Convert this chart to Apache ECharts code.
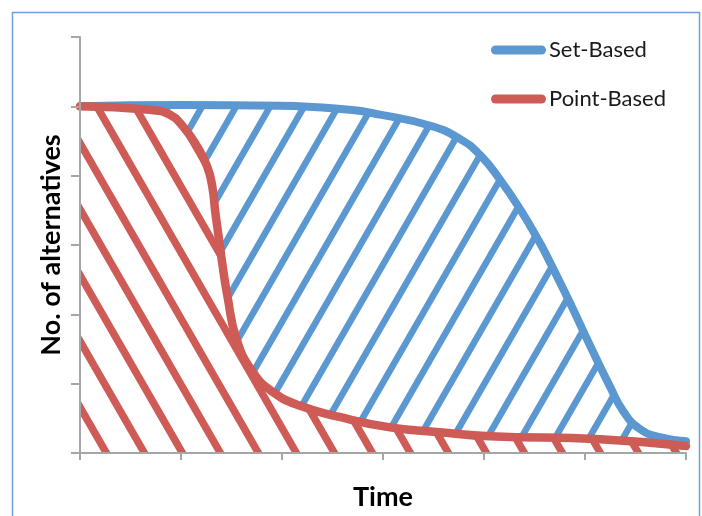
<!DOCTYPE html>
<html><head><meta charset="utf-8">
<script src="https://cdn.jsdelivr.net/npm/echarts@6/dist/echarts.min.js"></script>
<style>html,body{margin:0;padding:0;background:#fff}#c{width:702px;height:516px}</style>
</head><body><div id="c"></div>
<script>
// ---- data ----
const seriesNames = ['Set-Based', 'Point-Based'];
const setBasedX = [0, 0.99, 1.98, 2.67, 2.97, 3.47, 3.76, 3.96, 4.16, 4.36, 4.55, 4.65, 4.85, 5.05, 5.25, 5.38, 5.54, 5.74, 6.0];
const setBasedY = [5.0, 5.02, 5.01, 4.95, 4.88, 4.72, 4.53, 4.30, 3.94, 3.51, 3.04, 2.76, 2.17, 1.55, 0.95, 0.60, 0.35, 0.23, 0.17];
const pointBasedX = [0, 0.69, 0.89, 1.02, 1.16, 1.26, 1.31, 1.34, 1.37, 1.41, 1.46, 1.55, 1.71, 1.91, 2.18, 2.57, 3.07, 3.56, 4.06, 5.15, 6.0];
const pointBasedY = [5.0, 4.95, 4.88, 4.71, 4.42, 4.13, 3.84, 3.47, 3.15, 2.72, 2.26, 1.64, 1.17, 0.88, 0.68, 0.52, 0.37, 0.30, 0.24, 0.20, 0.10];
const axisMin = 0, axisMax = 6, axisStep = 1; // unlabeled ticks
const xAxisName = 'Time';
const yAxisName = 'No. of alternatives';

const BLUE = '#5B97D1';
const RED = '#CE5B56';
const FONT = 'Lato, "Open Sans", sans-serif';

function hatch(w, h, color, lw, dir, offset, bg) {
  const c = document.createElement('canvas');
  c.width = w; c.height = h;
  const g = c.getContext('2d');
  if (bg) { g.fillStyle = bg; g.fillRect(0, 0, w, h); }
  g.strokeStyle = color; g.lineWidth = lw;
  for (let k = -3; k <= 3; k++) {
    const b = k * w + offset;
    g.beginPath();
    if (dir === '\\') { g.moveTo(b - w, -h); g.lineTo(b + 2 * w, 2 * h); }
    else { g.moveTo(b + w, -h); g.lineTo(b - 2 * w, 2 * h); }
    g.stroke();
  }
  return c;
}
const redPat = hatch(38, 66, RED, 7.5, '\\', 35.6, '#ffffff');
const bluePat = hatch(34, 59, BLUE, 6.5, '/', 25.5, null);

const zip = (xs, ys) => xs.map((x, i) => [x, ys[i]]);
const legendIcon = 'path://M4.5,0 L50.5,0 A4.5,4.5 0 0 1 50.5,9 L4.5,9 A4.5,4.5 0 0 1 4.5,0 Z';

const axisCommon = {
  type: 'value', min: axisMin, max: axisMax, interval: axisStep, z: 5,
  axisLine: { show: true, lineStyle: { color: '#A6A6A6', width: 2 } },
  axisLabel: { show: false },
  splitLine: { show: false },
  nameLocation: 'middle',
  nameTextStyle: { fontFamily: FONT, fontWeight: 'bold', color: '#000' }
};

const chart = echarts.init(document.getElementById('c'), null, { renderer: 'canvas' });
chart.setOption({
  animation: false,
  backgroundColor: '#fff',
  graphic: [{
    type: 'rect', silent: true, z: -1,
    shape: { x: 12.5, y: 12.5, width: 687, height: 530 },
    style: { fill: 'none', stroke: '#6E9FDB', lineWidth: 1.5 }
  }],
  grid: { left: 80, right: 16, top: 37, bottom: 62, containLabel: false },
  legend: {
    orient: 'vertical', left: 486, top: 34, itemWidth: 55, itemHeight: 9, itemGap: 27,
    selectedMode: false,
    textStyle: { fontFamily: FONT, fontSize: 22, color: '#1a1a1a', lineHeight: 22, padding: [0, 0, 0, -2] },
    data: [
      { name: seriesNames[0], icon: legendIcon, itemStyle: { color: BLUE, borderWidth: 0 } },
      { name: seriesNames[1], icon: legendIcon, itemStyle: { color: RED, borderWidth: 0 } }
    ]
  },
  xAxis: Object.assign({}, axisCommon, {
    name: xAxisName, nameGap: 31,
    nameTextStyle: Object.assign({}, axisCommon.nameTextStyle, { fontSize: 27 }),
    axisTick: { show: true, length: 7, inside: false, lineStyle: { color: '#A6A6A6', width: 2 } }
  }),
  yAxis: Object.assign({}, axisCommon, {
    name: yAxisName, nameGap: 15, nameRotate: 90,
    nameTextStyle: Object.assign({}, axisCommon.nameTextStyle, { fontSize: 27 }),
    axisTick: { show: true, length: 9, inside: false, lineStyle: { color: '#A6A6A6', width: 2 } }
  }),
  series: [
    {
      name: seriesNames[0], type: 'line', data: zip(setBasedX, setBasedY),
      smooth: 0.5, symbol: 'none', z: 2,
      lineStyle: { color: BLUE, width: 8, cap: 'round', join: 'round' },
      itemStyle: { color: BLUE },
      areaStyle: { color: { image: bluePat, repeat: 'repeat' }, opacity: 1 }
    },
    {
      name: seriesNames[1], type: 'line', data: zip(pointBasedX, pointBasedY),
      smooth: 0.5, symbol: 'none', z: 3,
      lineStyle: { color: RED, width: 8.5, cap: 'round', join: 'round' },
      itemStyle: { color: RED },
      areaStyle: { color: { image: redPat, repeat: 'repeat' }, opacity: 1 }
    }
  ]
});
</script></body></html>
